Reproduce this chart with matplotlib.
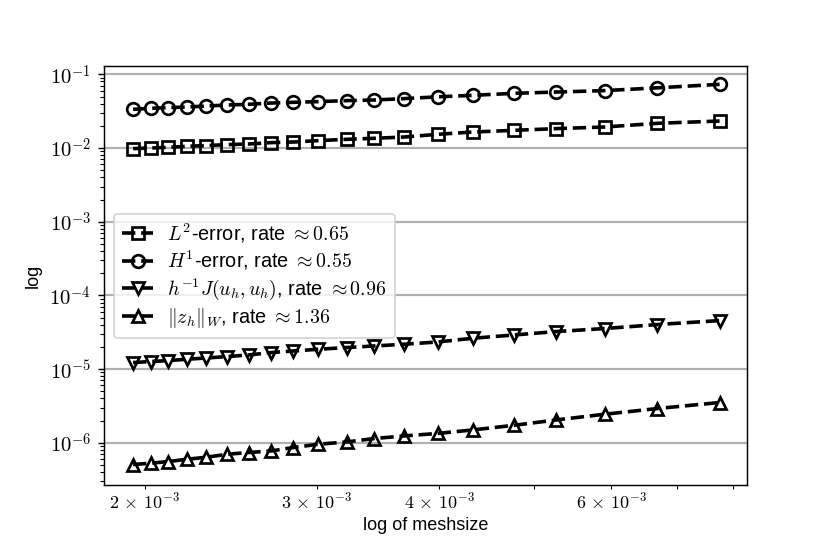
import numpy as np
import matplotlib
matplotlib.use("Agg")
import matplotlib.pyplot as plt
from matplotlib.ticker import LogFormatterSciNotation

# mesh sizes
meshsize = [1.946e-3, 2.028e-3, 2.115e-3, 2.210e-3, 2.313e-3, 2.430e-3,
            2.554e-3, 2.695e-3, 2.837e-3, 3.011e-3, 3.217e-3, 3.433e-3,
            3.685e-3, 3.987e-3, 4.330e-3, 4.776e-3, 5.268e-3, 5.905e-3,
            6.686e-3, 7.743e-3]

l2_error = [0.009815, 0.01000, 0.01022, 0.01055, 0.01078, 0.01112,
            0.01133, 0.01184, 0.01206, 0.01260, 0.01312, 0.01354,
            0.01410, 0.01534, 0.01648, 0.01738, 0.01833, 0.01927,
            0.02163, 0.02324]

h1_error = [0.03350, 0.03458, 0.03535, 0.03601, 0.03715, 0.03833,
            0.03918, 0.04080, 0.04170, 0.04262, 0.04397, 0.04481,
            0.04681, 0.04951, 0.05188, 0.05524, 0.05752, 0.06010,
            0.06557, 0.07316]

jump_term = [1.225e-5, 1.264e-5, 1.304e-5, 1.358e-5, 1.414e-5, 1.477e-5,
             1.553e-5, 1.674e-5, 1.760e-5, 1.856e-5, 1.957e-5, 2.057e-5,
             2.170e-5, 2.332e-5, 2.618e-5, 2.902e-5, 3.227e-5, 3.544e-5,
             4.016e-5, 4.549e-5]

z_norm = [5.061e-7, 5.270e-7, 5.558e-7, 5.971e-7, 6.357e-7, 6.982e-7,
          7.362e-7, 7.739e-7, 8.608e-7, 9.541e-7, 1.025e-6, 1.140e-6,
          1.237e-6, 1.337e-6, 1.491e-6, 1.727e-6, 2.038e-6, 2.435e-6,
          2.911e-6, 3.512e-6]

labels = [r'$L^2$-error, rate $\approx 0.65$',
          r'$H^1$-error, rate $\approx 0.55$',
          r'$h^{-1}J(u_h,u_h)$, rate $\approx 0.96$',
          r'$\|z_h\|_W$, rate $\approx 1.36$']


class CMFormatter(LogFormatterSciNotation):
    # same labels as default, but drawn in the computer modern math font
    def __call__(self, x, pos=None):
        s = super().__call__(x, pos)
        return s.replace(r'\mathdefault', '').replace(r'\times', r'\,\times\,')


def main():
    plt.rcParams['mathtext.fontset'] = 'cm'
    plt.rcParams['font.family'] = ['Liberation Sans', 'DejaVu Sans']
    plt.rcParams['axes.formatter.use_mathtext'] = True

    fig, ax = plt.subplots(figsize=(6.385, 4.262), dpi=130)
    fig.subplots_adjust(left=0.125, right=0.9, top=0.88, bottom=0.125)

    style = dict(color='k', linestyle='--', linewidth=2, markersize=7,
                 markerfacecolor='none', markeredgewidth=1.5)
    ax.loglog(meshsize, l2_error, marker='s', label=labels[0], **style)
    ax.loglog(meshsize, h1_error, marker='o', label=labels[1], **style)
    ax.loglog(meshsize, jump_term, marker='v', label=labels[2], **style)
    ax.loglog(meshsize, z_norm, marker='^', label=labels[3], **style)

    ax.set_xlim(1.816e-3, 8.26e-3)
    ax.set_ylim(2.69e-7, 1.28e-1)
    ax.yaxis.grid(True, which='major', color='#b0b0b0', linewidth=1.2)

    ax.xaxis.set_major_formatter(CMFormatter())
    ax.xaxis.set_minor_formatter(CMFormatter(labelOnlyBase=False,
                                             minor_thresholds=(1, 0.4)))
    ax.yaxis.set_major_formatter(CMFormatter())
    ax.tick_params(labelsize=11.5)
    ax.tick_params(axis='x', which='both', pad=2.5)

    ax.set_xlabel('log of meshsize', labelpad=2)
    ax.set_ylabel('log')
    ax.legend(loc='center left', fontsize=11, labelspacing=0.2,
              handlelength=1.6, handletextpad=0.7, borderpad=0.4)

    plt.savefig('out.png', dpi=130)


if __name__ == "__main__":
    main()
